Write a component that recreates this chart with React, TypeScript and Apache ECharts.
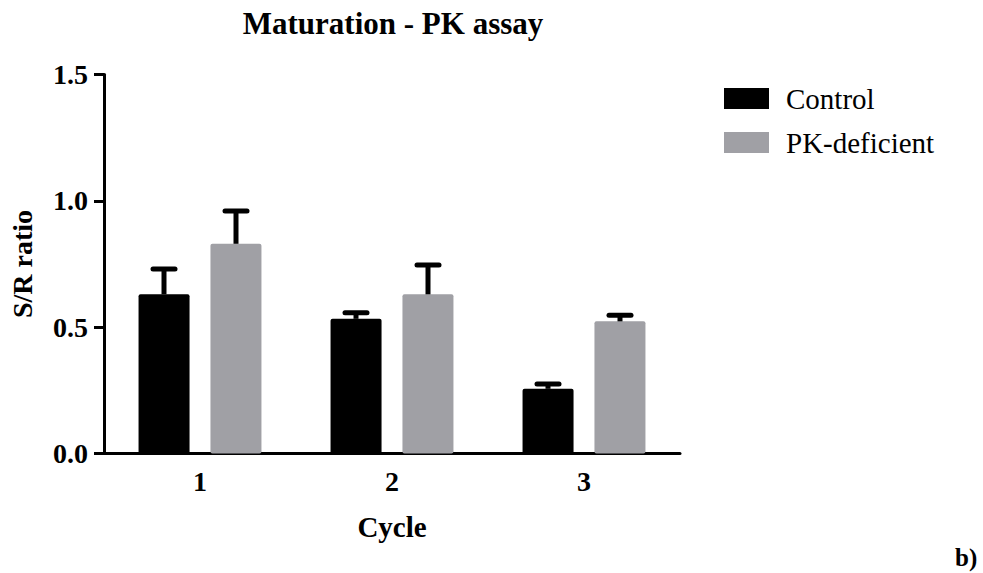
import React, { useEffect, useRef } from "react";
import * as echarts from "echarts";

const categories = ["1", "2", "3"];
const controlValues = [0.63, 0.533, 0.256];
const controlErrors = [0.1, 0.024, 0.019];
const pkValues = [0.83, 0.63, 0.523];
const pkErrors = [0.13, 0.116, 0.024];
const yTicks = [0, 0.5, 1.0, 1.5];

const FONT = "'Liberation Serif', 'Times New Roman', serif";
const GRAY = "#A0A0A5";

function errorSeries(name: string, values: number[], errors: number[], sign: number) {
  return {
    type: "custom",
    name,
    z: 3,
    silent: true,
    data: categories.map((_, i) => [i, values[i], errors[i]]),
    encode: { x: 0, y: 1 },
    renderItem: (params: any, api: any) => {
      const idx = api.value(0);
      const v = api.value(1);
      const e = api.value(2);
      const band = api.size([1, 0])[0];
      const off = sign * band * (36 / 192);
      const base = api.coord([idx, v]);
      const top = api.coord([idx, v + e]);
      const x = base[0] + off;
      return {
        type: "group",
        children: [
          {
            type: "line",
            shape: { x1: x, y1: base[1], x2: x, y2: top[1] },
            style: { stroke: "#000", lineWidth: 5 },
          },
          {
            type: "line",
            shape: { x1: x - 11, y1: top[1], x2: x + 11, y2: top[1] },
            style: { stroke: "#000", lineWidth: 5, lineCap: "round" },
          },
        ],
      };
    },
  };
}

export default function App() {
  const ref = useRef<HTMLDivElement>(null);
  useEffect(() => {
    if (!ref.current) return;
    const chart = echarts.init(ref.current, undefined, { renderer: "svg" });
    chart.setOption({
      animation: false,
      backgroundColor: "#ffffff",
      title: {
        text: "Maturation - PK assay",
        left: 388,
        textAlign: "center",
        top: 3,
        textStyle: { fontFamily: FONT, fontWeight: "bold", fontSize: 31, color: "#000" },
      },
      legend: {
        data: ["Control", "PK-deficient"],
        orient: "vertical",
        left: 719,
        top: 79,
        itemWidth: 45,
        itemHeight: 21,
        itemGap: 15,
        icon: "rect",
        textStyle: {
          fontFamily: FONT,
          fontSize: 29,
          color: "#000",
          padding: [0, 0, 0, 12],
        },
      },
      grid: { left: 104, right: 303, top: 74.5, bottom: 119.5, containLabel: false },
      xAxis: {
        type: "category",
        data: categories,
        name: "Cycle",
        nameLocation: "middle",
        nameGap: 59,
        nameTextStyle: { fontFamily: FONT, fontWeight: "bold", fontSize: 29, color: "#000" },
        axisLine: { lineStyle: { color: "#000", width: 3 } },
        axisTick: { alignWithLabel: true, length: 10, lineStyle: { color: "#000", width: 3 } },
        axisLabel: { margin: 14, fontFamily: FONT, fontWeight: "bold", fontSize: 28, color: "#000" },
        splitLine: { show: false },
      },
      yAxis: {
        type: "value",
        min: yTicks[0],
        max: yTicks[yTicks.length - 1],
        interval: 0.5,
        name: "S/R ratio",
        nameLocation: "middle",
        nameRotate: 90,
        nameGap: 68,
        nameTextStyle: { fontFamily: FONT, fontWeight: "bold", fontSize: 28, color: "#000" },
        axisLine: { show: true, lineStyle: { color: "#000", width: 3 } },
        axisTick: { show: true, length: 10, lineStyle: { color: "#000", width: 3 } },
        axisLabel: {
          margin: 16,
          fontFamily: FONT,
          fontWeight: "bold",
          fontSize: 28,
          color: "#000",
          formatter: (v: number) => v.toFixed(1),
        },
        splitLine: { show: false },
      },
      series: [
        {
          type: "bar",
          name: "Control",
          data: controlValues,
          barWidth: 51,
          barGap: "41%",
          itemStyle: { color: "#000000", borderRadius: 2 },
          z: 2,
        },
        {
          type: "bar",
          name: "PK-deficient",
          data: pkValues,
          barWidth: 51,
          barGap: "41%",
          itemStyle: { color: GRAY, borderRadius: 2 },
          z: 2,
        },
        errorSeries("ctrlErr", controlValues, controlErrors, -1),
        errorSeries("pkErr", pkValues, pkErrors, 1),
      ],
      graphic: [
        {
          type: "text",
          left: 955,
          top: 545,
          style: { text: "b)", fontFamily: FONT, fontWeight: "bold", fontSize: 25, fill: "#000" },
        },
      ],
    });
    return () => chart.dispose();
  }, []);
  return (
    <div
      ref={ref}
      style={{ position: "absolute", left: 0, top: 0, width: 983, height: 573 }}
    />
  );
}
